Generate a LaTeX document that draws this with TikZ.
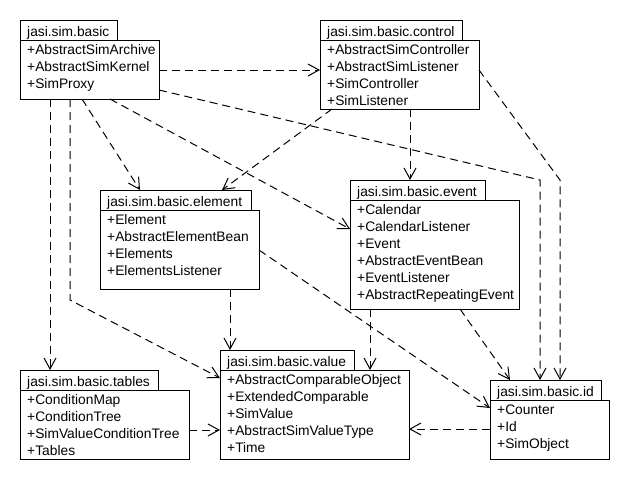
\documentclass[tikz,border=0pt]{standalone}
\usepackage{fontspec}
\newfontfamily\umlfont{Liberation Sans}
\usetikzlibrary{arrows.meta,calc}
\tikzset{
  box/.style={draw=black, line width=1pt, fill=white, inner sep=0pt, outer sep=0pt, anchor=north west},
  txt/.style={font=\umlfont\fontsize{13.8}{17}\selectfont, inner sep=0pt, anchor=base west},
  dep/.style={draw=black, line width=1pt, dash pattern=on 8pt off 5pt,
    -{Straight Barb[length=11pt,width=12pt,line width=1pt]}},
}
% #1 name, #2 left, #3 top, #4 tab right, #5 body right, #6 body bottom, #7 title, #8 items
\newcommand\umlpkg[8]{%
  \node[box, minimum width={(#4-#2)*1pt}, minimum height=20pt] (#1t) at (#2,#3) {};
  \node[box, minimum width={(#5-#2)*1pt}, minimum height={(#6-#3-20)*1pt}] (#1) at (#2,#3+20) {};
  \node[txt] (#1title) at ($(#1t.south west)+(7,-3.5)$) {#7};
  \foreach \s [count=\i] in {#8} {
    \node[txt] (#1-\i) at ($(#1.north west)+(7,{14+17*(\i-1)})$) {\s};
  }
}
\begin{document}
\begin{tikzpicture}[x=1pt,y=-1pt]
\fill[white] (0,0) rectangle (630,480);
\useasboundingbox (0,0) rectangle (630,480);

\umlpkg{basic}{20}{20}{117}{159}{99}{jasi.sim.basic}{+AbstractSimArchive,+AbstractSimKernel,+SimProxy}
\umlpkg{control}{320}{20}{462}{479}{109}{jasi.sim.basic.control}{+AbstractSimController,+AbstractSimListener,+SimController,+SimListener}
\umlpkg{element}{100}{190}{251}{259}{289}{jasi.sim.basic.element}{+Element,+AbstractElementBean,+Elements,+ElementsListener}
\umlpkg{event}{350}{180}{485}{519}{309}{jasi.sim.basic.event}{+Calendar,+CalendarListener,+Event,+AbstractEventBean,+EventListener,+AbstractRepeatingEvent}
\umlpkg{tables}{20}{370}{158}{189}{459}{jasi.sim.basic.tables}{+ConditionMap,+ConditionTree,+SimValueConditionTree,+Tables}
\umlpkg{value}{220}{350}{354}{409}{459}{jasi.sim.basic.value}{+AbstractComparableObject,+ExtendedComparable,+SimValue,+AbstractSimValueType,+Time}
\umlpkg{id}{490}{380}{601}{609}{459}{jasi.sim.basic.id}{+Counter,+Id,+SimObject}

% basic
\draw[dep] ($(basic.north east)+(0,30)$) -- ($(control.north west)+(0,30)$);
\draw[dep] ($(basic.south west)+(62,0)$) -- ($(elementt.north west)+(40,0)$);
\draw[dep] ($(basic.south west)+(30,0)$) -- ($(tablest.north west)+(30,0)$);
\draw[dep] ($(basic.south west)+(50,0)$) -- ++(0,201) -- ($(value.north west)+(0,8)$);
\draw[dep] ($(basic.south west)+(90,0)$) -- ($(event.north west)+(0,29)$);
\draw[dep] ($(basic.north east)+(0,50)$) -- ($(idt.north west)+(50,-200)$) -- ($(idt.north west)+(50,0)$);
% control
\draw[dep] ($(control.south west)+(12,0)$) -- ($(elementt.north west)+(122,0)$);
\draw[dep] ($(control.south west)+(90,0)$) -- ($(eventt.north west)+(60,0)$);
\draw[dep] ($(control.north east)+(0,30)$) -- ($(idt.north west)+(70,-200)$) -- ($(idt.north west)+(70,0)$);
% element
\draw[dep] ($(element.south west)+(130,0)$) -- ($(valuet.north west)+(10,0)$);
\draw[dep] ($(element.north east)+(0,40)$) -- ($(id.north west)+(0,8)$);
% event
\draw[dep] ($(event.south west)+(20,0)$) -- ($(value.north west)+(150,0)$);
\draw[dep] ($(event.south west)+(110,0)$) -- ($(idt.north west)+(20,0)$);
% tables, id
\draw[dep] ($(tables.north east)+(0,40)$) -- ($(value.north west)+(0,60)$);
\draw[dep] ($(id.north west)+(0,29)$) -- ($(value.north east)+(0,59)$);
\end{tikzpicture}
\end{document}
